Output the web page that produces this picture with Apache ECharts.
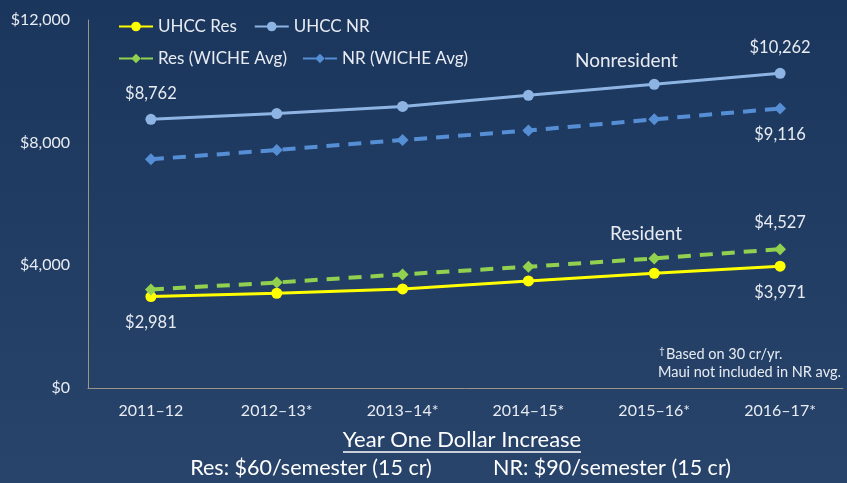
<!DOCTYPE html>
<html>
<head>
<meta charset="utf-8">
<script src="https://cdn.jsdelivr.net/npm/echarts@6/dist/echarts.min.js"></script>
<style>
  html, body { margin: 0; padding: 0; }
  #chart { width: 847px; height: 483px; }
</style>
</head>
<body>
<div id="chart"></div>
<script>
    // school years on the x axis
    var years = ['2011–12', '2012–13*', '2013–14*', '2014–15*', '2015–16*', '2016–17*'];
    // tuition
    var uhccRes = [2981, 3090, 3230, 3490, 3740, 3971];
    var uhccNR = [8762, 8950, 9180, 9545, 9902, 10262];
    var wicheRes = [3210, 3440, 3705, 3955, 4225, 4527];
    var wicheNR = [7460, 7760, 8086, 8395, 8760, 9116];
    // which points get a value label, and where
    var labelsRes = { 0: 'bottom', 5: 'bottom' };
    var labelsNR = { 0: 'top', 5: 'top' };
    var labelsWicheRes = { 5: 'top' };
    var labelsWicheNR = { 5: 'bottom' };

    var font = 'Lato, "Open Sans", sans-serif';
    var textColor = '#e8ecf2';

    function withLabels(values, where) {
        return values.map(function (v, i) {
            if (where[i]) {
                return {
                    value: v,
                    label: {
                        show: true,
                        position: where[i],
                        distance: 12,
                        color: textColor,
                        fontFamily: font,
                        fontSize: 16.5,
                        formatter: function (p) {
                            return '$' + p.value.toLocaleString('en-US');
                        }
                    }
                };
            }
            return v;
        });
    }

    var chart = echarts.init(document.getElementById('chart'));
    chart.setOption({
        backgroundColor: {
            type: 'linear', x: 0, y: 0, x2: 0, y2: 1,
            colorStops: [
                { offset: 0, color: '#1b365d' },
                { offset: 1, color: '#28446b' }
            ]
        },
        textStyle: { fontFamily: font },
        legend: [
            {
                left: 113, top: 13,
                itemWidth: 34, itemHeight: 12, itemGap: 17,
                textStyle: { color: textColor, fontSize: 17, width: 130 },
                data: ['UHCC Res', 'UHCC NR']
            },
            {
                left: 113, top: 45,
                itemWidth: 34, itemHeight: 12, itemGap: 15,
                textStyle: { color: textColor, fontSize: 17, width: 130 },
                data: ['Res (WICHE Avg)', 'NR (WICHE Avg)']
            }
        ],
        grid: { left: 88, right: 4, top: 20, bottom: 95 },
        xAxis: {
            type: 'category',
            data: years,
            boundaryGap: true,
            axisLine: { lineStyle: { color: '#9c958a', width: 1 } },
            axisTick: { show: false },
            axisLabel: { color: textColor, fontSize: 16, margin: 15 }
        },
        yAxis: {
            type: 'value',
            min: 0, max: 12000, interval: 4000,
            axisLine: { show: true, lineStyle: { color: '#9c958a', width: 1 } },
            axisTick: { show: false },
            splitLine: { show: false },
            axisLabel: {
                color: textColor, fontSize: 16, margin: 18,
                formatter: function (v) { return '$' + v.toLocaleString('en-US'); }
            }
        },
        series: [
            {
                name: 'UHCC Res', type: 'line',
                data: withLabels(uhccRes, labelsRes),
                symbol: 'circle', symbolSize: 11,
                color: '#ffff00',
                lineStyle: { width: 3 }
            },
            {
                name: 'UHCC NR', type: 'line',
                data: withLabels(uhccNR, labelsNR),
                symbol: 'circle', symbolSize: 11,
                color: '#8eb4e3',
                lineStyle: { width: 3 }
            },
            {
                name: 'Res (WICHE Avg)', type: 'line',
                data: withLabels(wicheRes, labelsWicheRes),
                symbol: 'diamond', symbolSize: 12,
                color: '#92d050',
                lineStyle: { width: 4, type: [13, 9] }
            },
            {
                name: 'NR (WICHE Avg)', type: 'line',
                data: withLabels(wicheNR, labelsWicheNR),
                symbol: 'diamond', symbolSize: 12,
                color: '#558ed5',
                lineStyle: { width: 4, type: [13, 9] }
            }
        ],
        graphic: [
            { type: 'text', left: 575, top: 51, style: { text: 'Nonresident', fill: textColor, font: '19px ' + font } },
            { type: 'text', left: 610, top: 224, style: { text: 'Resident', fill: textColor, font: '19px ' + font } },
            { type: 'text', left: 659, top: 346, style: { text: '†', fill: textColor, font: '10px ' + font } },
            { type: 'text', left: 666, top: 347, style: { text: 'Based on 30 cr/yr.', fill: textColor, font: '14.5px ' + font } },
            { type: 'text', left: 658, top: 365, style: { text: 'Maui not included in NR avg.', fill: textColor, font: '14.5px ' + font } },
            { type: 'text', x: 462, y: 440, style: { text: 'Year One Dollar Increase', fill: '#ffffff', font: '22px ' + font, align: 'center', verticalAlign: 'middle' } },
            { type: 'line', shape: { x1: 343, y1: 452, x2: 581, y2: 452 }, style: { stroke: '#ffffff', lineWidth: 1.5 } },
            { type: 'text', x: 311, y: 468, style: { text: 'Res: $60/semester (15 cr)', fill: '#ffffff', font: '21.5px ' + font, align: 'center', verticalAlign: 'middle' } },
            { type: 'text', x: 612, y: 468, style: { text: 'NR: $90/semester (15 cr)', fill: '#ffffff', font: '21.5px ' + font, align: 'center', verticalAlign: 'middle' } }
        ]
    });
</script>
</body>
</html>
